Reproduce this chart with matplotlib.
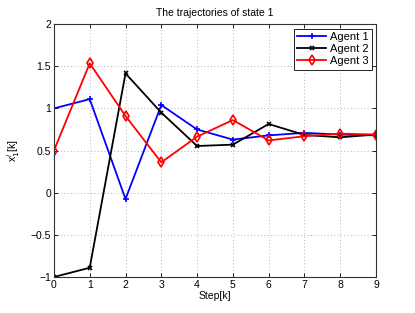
import numpy as np
import matplotlib
matplotlib.use("Agg")
import matplotlib.pyplot as plt

steps = np.arange(10)
agent1 = [1.0, 1.11, -0.075, 1.04, 0.75, 0.63, 0.68, 0.71, 0.69, 0.68]
agent2 = [-1.0, -0.89, 1.415, 0.95, 0.554, 0.57, 0.815, 0.685, 0.657, 0.69]
agent3 = [0.5, 1.535, 0.91, 0.36, 0.665, 0.862, 0.62, 0.67, 0.70, 0.69]

plt.rcParams['font.family'] = ['Liberation Sans', 'DejaVu Sans']
plt.rcParams['font.size'] = 7.5

fig = plt.figure(figsize=(4.15, 3.13), dpi=100)
ax = fig.add_axes([0.130, 0.115, 0.776, 0.808])

ax.plot(steps, agent1, color='#0000ff', lw=1.3, marker='+', ms=5, mew=1.2, label='Agent 1')
ax.plot(steps, agent2, color='black', lw=1.3, marker='x', ms=3.5, mew=1.2, label='Agent 2')
ax.plot(steps, agent3, color='red', lw=1.3, marker='d', ms=5, mew=1.2, mfc='none', label='Agent 3')

ax.set_xlim(0, 9)
ax.set_ylim(-1, 2)
ax.set_xticks(steps)
ax.set_yticks([-1, -0.5, 0, 0.5, 1, 1.5, 2])
ax.set_yticklabels(['\u22121', '\u22120.5', '0', '0.5', '1', '1.5', '2'])
ax.grid(True, ls=(0, (1, 3)), color='#999999', lw=0.6)
ax.tick_params(direction='in', length=3, width=0.6, pad=2, top=True, right=True)
for s in ax.spines.values():
    s.set_linewidth(0.8)
    s.set_color('#333333')

ax.set_title('The trajectories of state 1', fontsize=7.5, pad=6)
ax.set_xlabel('Step[k]', labelpad=1)
ax.set_ylabel(r'x$_1^i$[k]', labelpad=6)

leg = ax.legend(loc='upper right', fancybox=False, framealpha=1, edgecolor='black',
                borderaxespad=0.4, handlelength=2.6, labelspacing=0.2, borderpad=0.3,
                handletextpad=0.3, fontsize=8)
leg.get_frame().set_linewidth(0.6)

fig.savefig('out.png', dpi=100)
